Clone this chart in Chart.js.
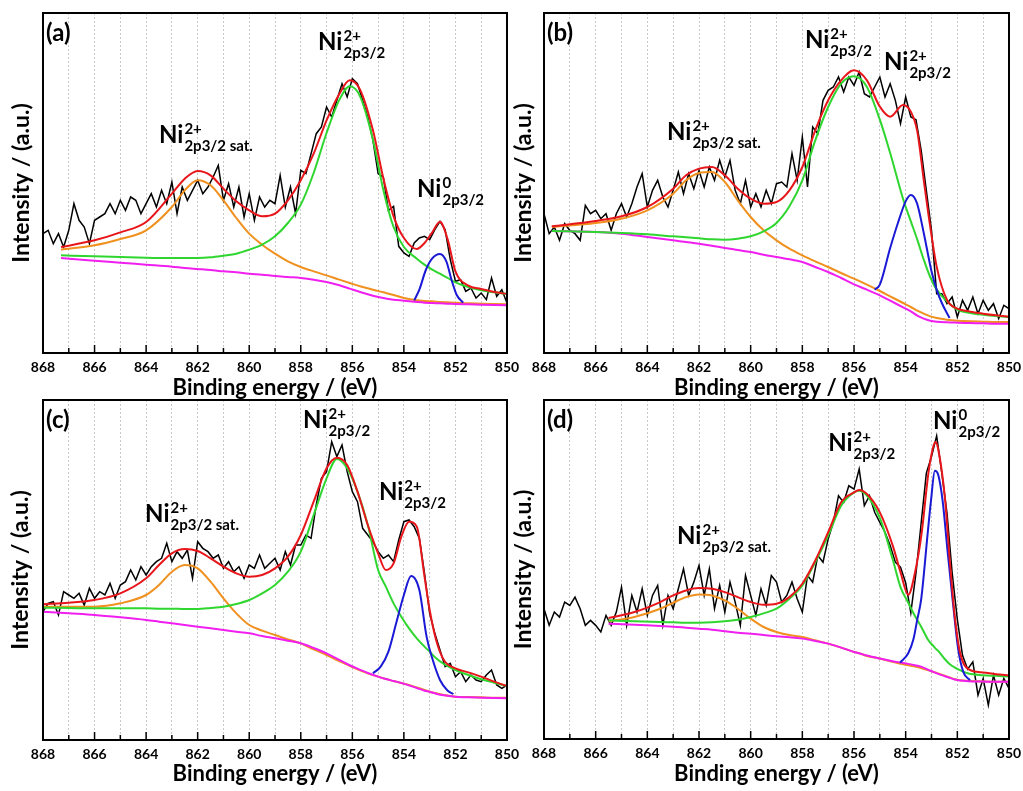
<!DOCTYPE html>
<html>
<head>
<meta charset="utf-8">
<script src="https://cdn.jsdelivr.net/npm/chart.js@4.4.1/dist/chart.umd.min.js"></script>
<style>
body { margin: 0; background: #fff; width: 1023px; height: 791px; overflow: hidden; position: relative; }
.row { position: absolute; left: 0; width: 1023px; overflow: hidden; }
.row canvas { position: absolute; }
</style>
</head>
<body>
<div class="row" style="top:0;height:399px">
  <canvas id="ca" width="530" height="420" style="left:0;top:0"></canvas>
  <canvas id="cb" width="523" height="420" style="left:500px;top:0"></canvas>
</div>
<div class="row" style="top:396px;height:395px">
  <canvas id="cc" width="530" height="395" style="left:0;top:0"></canvas>
  <canvas id="cd" width="523" height="395" style="left:500px;top:0"></canvas>
</div>
<script>
// binding energy of the measured points (eV), shared by all four spectra
const rawEnergy = [868.0, 867.8, 867.6, 867.4, 867.2, 867.0, 866.8, 866.6, 866.4, 866.2,
  866.0, 865.8, 865.6, 865.4, 865.2, 865.0, 864.8, 864.6, 864.4, 864.2,
  864.0, 863.8, 863.6, 863.4, 863.2, 863.0, 862.8, 862.6, 862.4, 862.2,
  862.0, 861.8, 861.6, 861.4, 861.2, 861.0, 860.8, 860.6, 860.4, 860.2,
  860.0, 859.8, 859.6, 859.4, 859.2, 859.0, 858.8, 858.6, 858.4, 858.2,
  858.0, 857.8, 857.6, 857.4, 857.2, 857.0, 856.8, 856.6, 856.4, 856.2,
  856.0, 855.8, 855.6, 855.4, 855.2, 855.0, 854.8, 854.6, 854.4, 854.2,
  854.0, 853.8, 853.6, 853.4, 853.2, 853.0, 852.8, 852.6, 852.4, 852.2,
  852.0, 851.8, 851.6, 851.4, 851.2, 851.0, 850.8, 850.6, 850.4, 850.2,
  850.0];

// ---- (a) ----
const aRaw = [358, 368, 328, 358, 318, 368, 448, 398, 378, 328,
  398, 408, 418, 448, 418, 458, 428, 468, 458, 418,
  448, 478, 438, 488, 448, 513, 418, 498, 458, 488,
  518, 478, 498, 528, 563, 458, 508, 438, 498, 408,
  478, 398, 468, 438, 458, 448, 533, 438, 498, 418,
  548, 538, 598, 658, 678, 738, 708, 758, 808, 768,
  823, 808, 758, 708, 638, 538, 528, 428, 440, 320,
  300, 290, 330, 345, 350, 340, 370, 395, 370, 280,
  215, 220, 185, 195, 165, 180, 160, 225, 170, 190,
  150];
const aFitE = [867.3, 866, 865, 864, 863, 862.5, 862, 861.5, 861, 860.5, 860, 859.5, 859, 858.5, 858, 857.5, 857,
  856.5, 856.1, 855.7, 855.2, 854.8, 854.4, 854, 853.5, 853.2, 852.9, 852.6, 852.3, 852, 851.5, 851, 850.5, 850];
const aEnvelope = [318, 338, 362, 393, 478, 523, 546, 533, 493, 455, 428, 410, 418, 458, 518, 598, 698,
  778, 818, 790, 668, 525, 410, 345, 312, 330, 362, 394, 340, 245, 202, 192, 183, 177];
const aMain = [293, 290, 288, 286, 285, 285, 285, 287, 292, 298, 310, 325, 350, 390, 445, 540, 660,
  760, 800, 770, 640, 490, 378, 318, 283, 265, 250, 238, 225, 212, 198, 188, 182, 177];
const aSat = [310, 323, 342, 368, 438, 488, 518, 503, 458, 405, 358, 325, 298, 275, 258, 245, 233,
  220, 210, 200, 190, 182, 174, 165, 158, 156, 155, 153, 152, 151, 149, 148, 147, 146];
const aBg = [285, 277, 271, 265, 259, 255, 252, 249, 245, 242, 238, 235, 231, 228, 225, 220, 213,
  203, 193, 183, 172, 165, 160, 157, 153, 151, 150, 149, 148, 147, 146, 145, 144, 143];
const aPeak2E = [853.6, 853.4, 853.15, 852.9, 852.6, 852.35, 852.15, 851.95, 851.7];
const aPeak2 = [158, 190, 249, 284, 297, 274, 219, 174, 151];

// ---- (b) ----
const bRaw = [418, 358, 378, 338, 388, 368, 358, 338, 443, 418,
  428, 403, 418, 368, 418, 448, 408, 448, 498, 538,
  438, 488, 518, 468, 438, 488, 543, 478, 538, 493,
  548, 498, 558, 518, 578, 528, 578, 488, 448, 518,
  438, 478, 438, 488, 448, 508, 513, 498, 598, 518,
  648, 498, 678, 658, 758, 788, 798, 828, 783, 828,
  803, 843, 778, 768, 798, 828, 768, 808, 758, 688,
  768, 708, 700, 608, 488, 368, 178, 178, 148, 168,
  108, 158, 128, 168, 118, 158, 128, 148, 103, 143,
  133];
const bFitE = [867.7, 866, 865, 864, 863, 862.5, 862, 861.5, 861, 860.5, 860, 859.5, 859, 858.5, 858, 857.5, 857,
  856.5, 856, 855.5, 855, 854.6, 854.1, 853.8, 853.55, 853.3, 853.05, 852.8, 852.4, 852, 851.5, 851, 850.5, 850];
const bEnvelope = [380, 396, 410, 438, 493, 533, 553, 558, 533, 493, 463, 448, 453, 488, 558, 668, 758,
  818, 848, 818, 739, 709, 744, 724, 665, 519, 379, 259, 159, 133, 124, 118, 113, 109];
const bMain = [366, 363, 360, 356, 350, 347, 344, 341, 340, 343, 350, 365, 390, 440, 518, 638, 738,
  808, 830, 798, 700, 600, 462, 395, 340, 280, 228, 190, 155, 130, 120, 115, 111, 108];
const bSat = [378, 390, 403, 428, 478, 518, 540, 543, 513, 458, 408, 368, 338, 313, 293, 275, 258,
  240, 223, 205, 186, 170, 150, 138, 127, 118, 110, 105, 100, 97, 95, 94, 93, 93];
const bBg = [366, 363, 358, 348, 338, 333, 328, 322, 315, 309, 303, 295, 288, 281, 273, 258, 243,
  225, 206, 190, 173, 157, 137, 125, 112, 103, 97, 94, 92, 91, 90, 89, 88, 88];
const bPeak2E = [855.2, 855.0, 854.6, 854.3, 854.0, 853.8, 853.56, 853.3, 853.0, 852.8, 852.6, 852.3];
const bPeak2 = [190, 205, 315, 390, 455, 474, 449, 360, 245, 190, 150, 105];

// ---- (c) ----
const cRaw = [385, 410, 415, 375, 445, 435, 425, 440, 405, 455,
  425, 445, 435, 470, 425, 465, 475, 510, 480, 520,
  495, 520, 535, 545, 590, 535, 565, 545, 570, 485,
  595, 575, 565, 545, 555, 515, 535, 505, 520, 485,
  525, 515, 555, 515, 530, 545, 510, 565, 525, 585,
  585, 615, 605, 705, 785, 805, 895, 850, 885, 805,
  745, 715, 635, 615, 595, 565, 545, 555, 535, 600,
  655, 660, 640, 605, 500, 380, 320, 270, 220, 230,
  190, 205, 175, 195, 180, 175, 195, 210, 165, 155,
  165];
const cFitE = [868, 867, 866, 865, 864, 863.5, 863, 862.5, 862, 861.5, 861, 860.5, 860, 859.5, 859, 858.5, 858,
  857.5, 857, 856.6, 856.2, 855.8, 855.4, 855, 854.7, 854.4, 854.1, 853.8, 853.5, 853.2, 853, 852.75, 852.45,
  852, 851.5, 851, 850.5, 850];
const cEnvelope = [407, 412, 420, 440, 485, 525, 560, 573, 567, 545, 520, 500, 490, 495, 515, 550, 615,
  715, 815, 847, 825, 745, 645, 560, 510, 530, 610, 655, 640, 490, 390, 300, 240,
  215, 203, 190, 175, 162];
const cMain = [397, 396, 395, 395, 395, 394, 394, 393, 393, 396, 400, 408, 420, 440, 465, 505, 565,
  675, 785, 843, 815, 745, 645, 510, 460, 410, 370, 335, 305, 280, 265, 245, 228,
  210, 195, 182, 172, 162];
const cSat = [400, 400, 400, 410, 435, 465, 505, 525, 515, 475, 425, 380, 345, 328, 315, 302, 290,
  272, 255, 240, 226, 212, 200, 190, 183, 177, 171, 165, 158, 150, 145, 140, 135,
  130, 129, 128, 127, 127];
const cBg = [385, 380, 375, 368, 360, 355, 350, 345, 340, 335, 330, 325, 320, 312, 305, 298, 290,
  276, 260, 244, 228, 214, 201, 190, 183, 177, 171, 164, 156, 148, 145, 139, 134,
  130, 128, 127, 126, 125];
const cPeak2E = [855.2, 854.9, 854.6, 854.3, 854.0, 853.72, 853.4, 853.12, 852.9, 852.6, 852.3, 852.08];
const cPeak2 = [200, 220, 265, 350, 435, 492, 450, 310, 245, 180, 148, 138];

// ---- (d) ----
const dRaw = [392, 342, 382, 367, 412, 402, 427, 392, 342, 357,
  342, 322, 372, 342, 382, 457, 342, 432, 382, 452,
  372, 432, 462, 342, 432, 392, 452, 512, 432, 472,
  522, 432, 512, 392, 462, 382, 472, 412, 342, 492,
  432, 372, 452, 402, 492, 472, 412, 432, 472, 422,
  382, 492, 472, 552, 532, 602, 652, 732, 712, 762,
  752, 812, 702, 732, 682, 652, 622, 582, 532, 517,
  470, 380, 500, 650, 800, 850, 912, 800, 680, 500,
  360, 252, 210, 232, 132, 182, 102, 192, 132, 182,
  152];
const dFitE = [865.5, 864.5, 863.5, 863, 862.5, 862, 861.5, 861, 860.5, 860, 859.5, 859, 858.5, 858, 857.5, 857,
  856.5, 856, 855.8, 855.5, 855, 854.5, 854.2, 853.9, 853.64, 853.38, 853.12, 852.93, 852.84, 852.74, 852.48,
  852.29, 852.1, 851.9, 851.57, 851, 850.5, 850];
const dEnvelope = [364, 382, 412, 432, 447, 454, 452, 442, 427, 412, 404, 407, 427, 467, 537, 622,
  712, 742, 749, 737, 682, 582, 502, 434, 500, 620, 800, 880, 894, 872, 725,
  535, 370, 262, 210, 200, 195, 192];
const dMain = [357, 354, 352, 351, 350, 350, 351, 354, 359, 367, 378, 392, 422, 462, 532, 612,
  702, 742, 747, 732, 665, 540, 457, 410, 370, 335, 297, 280, 272, 265, 240,
  225, 215, 207, 197, 192, 190, 188];
const dSat = [354, 367, 392, 410, 427, 435, 432, 417, 392, 362, 337, 322, 313, 307, 297, 287,
  275, 262, 258, 250, 242, 232, 226, 222, 218, 213, 207, 202, 200, 197, 190,
  185, 180, 177, 175, 173, 172, 172];
const dBg = [347, 344, 340, 338, 335, 332, 329, 324, 320, 317, 313, 309, 306, 302, 295, 287,
  275, 262, 258, 251, 242, 234, 230, 226, 222, 217, 208, 202, 199, 196, 189,
  184, 179, 176, 174, 173, 172, 172];
const dPeak2E = [854.22, 853.9, 853.7, 853.55, 853.4, 853.15, 853.02, 852.87, 852.74, 852.57, 852.38, 852.18, 851.97, 851.77, 851.51];
const dPeak2 = [230, 258, 300, 360, 420, 617, 717, 807, 795, 717, 567, 417, 272, 202, 177];

// axis range and labels
const energyMin = 850, energyMax = 868;
const intensityMax = 1020;
const xTitle = 'Binding energy / (eV)';
const yTitle = 'Intensity / (a.u.)';

const FONT = 'Lato, "Open Sans", sans-serif';

function pts(xs, ys) {
  return xs.map((x, i) => ({ x: x, y: ys[i] }));
}

function fitLine(data, color) {
  return { data: data, borderColor: color, borderWidth: 2, pointRadius: 0, fill: false,
           cubicInterpolationMode: 'monotone' };
}

// draws the frame, inward ticks, panel tag and peak labels
const framePlugin = {
  id: 'frame',
  afterDraw(chart, args, opts) {
    const ctx = chart.ctx, a = chart.chartArea, x = chart.scales.x, y = chart.scales.y;
    ctx.save();
    ctx.strokeStyle = '#000';
    ctx.lineWidth = 1.5;
    x.ticks.forEach(t => {
      const px = x.getPixelForValue(t.value);
      const len = t.value % 2 === 0 ? 8 : 5;
      ctx.beginPath();
      ctx.moveTo(px, a.bottom);
      ctx.lineTo(px, a.bottom - len);
      ctx.stroke();
    });
    ctx.lineWidth = 2;
    ctx.strokeRect(a.left, a.top, a.right - a.left, a.bottom - a.top);

    ctx.fillStyle = '#000';
    ctx.textBaseline = 'alphabetic';
    ctx.textAlign = 'left';
    ctx.font = 'bold 24px ' + FONT;
    ctx.fillText(opts.tag, a.left + 3, a.top + 28);

    opts.notes.forEach(n => {
      const px = x.getPixelForValue(n.e), py = y.getPixelForValue(n.v);
      ctx.font = 'bold 24px ' + FONT;
      ctx.fillText('Ni', px, py);
      const w = ctx.measureText('Ni').width + 1;
      ctx.font = 'bold 15px ' + FONT;
      ctx.fillText(n.sup, px + w, py - 9);
      ctx.fillText(n.sub, px + w, py + 8);
    });
    ctx.restore();
  }
};

function makePanel(p) {
  const canvas = document.getElementById(p.id);
  const cw = canvas.width, ch = canvas.height;
  const [pl, pt, pr, pb] = p.plot;

  return new Chart(canvas, {
    type: 'line',
    data: {
      datasets: [
        fitLine(pts(p.fitE, p.envelope), '#e8161b'),
        fitLine(pts(p.peak2E, p.peak2), '#1a1ad6'),
        fitLine(pts(p.fitE, p.main), '#2fd62f'),
        fitLine(pts(p.fitE, p.bg), '#f01ff0'),
        fitLine(pts(p.fitE, p.sat), '#f0901e'),
        { data: pts(rawEnergy, p.raw), borderColor: '#000', borderWidth: 1.5, pointRadius: 0, tension: 0 }
      ]
    },
    options: {
      responsive: false,
      animation: false,
      events: [],
      layout: { padding: { left: 0, top: pt, right: cw - pr, bottom: 0 } },
      plugins: {
        legend: { display: false },
        tooltip: { enabled: false },
        frame: { tag: p.tag, notes: p.notes }
      },
      scales: {
        x: {
          type: 'linear',
          reverse: true,
          min: energyMin,
          max: energyMax,
          afterFit: s => { s.height = ch - pb; s.paddingLeft = 0; s.paddingRight = 0; },
          ticks: {
            stepSize: 1,
            autoSkip: false,
            maxRotation: 0,
            padding: 6,
            color: '#000',
            font: { family: FONT, size: 14, weight: 'bold' },
            callback: v => (v % 2 === 0 ? String(v) : '')
          },
          grid: { color: '#c8c8c8', lineWidth: 1, drawTicks: false },
          border: { display: false, dash: [2, 2] },
          title: {
            display: true, text: xTitle, color: '#000',
            font: { family: FONT, size: 22, weight: 'bold' },
            padding: { top: 0, bottom: p.xGap - 13.2 }
          }
        },
        y: {
          min: 0,
          max: intensityMax,
          afterFit: s => { s.width = pl; },
          ticks: { display: false },
          grid: { display: false },
          border: { display: false },
          title: {
            display: true, text: yTitle, color: '#000',
            font: { family: FONT, size: 23, weight: 'bold' },
            padding: { top: p.yGap - 13.8, bottom: 0 }
          }
        }
      }
    },
    plugins: [framePlugin]
  });
}

const panels = [
  { id: 'ca', tag: '(a)', plot: [43, 13, 507, 353], xGap: 32, yGap: 21.5,
    raw: aRaw, fitE: aFitE, envelope: aEnvelope, main: aMain, sat: aSat, bg: aBg, peak2E: aPeak2E, peak2: aPeak2,
    notes: [
      { e: 857.33, v: 909, sup: '2+', sub: '2p3/2' },
      { e: 863.5, v: 630, sup: '2+', sub: '2p3/2 sat.' },
      { e: 853.49, v: 468, sup: '0', sub: '2p3/2' }
    ] },
  { id: 'cb', tag: '(b)', plot: [44, 13, 509, 353], xGap: 32, yGap: 24,
    raw: bRaw, fitE: bFitE, envelope: bEnvelope, main: bMain, sat: bSat, bg: bBg, peak2E: bPeak2E, peak2: bPeak2,
    notes: [
      { e: 857.9, v: 915, sup: '2+', sub: '2p3/2' },
      { e: 854.84, v: 849, sup: '2+', sub: '2p3/2' },
      { e: 863.24, v: 639, sup: '2+', sub: '2p3/2 sat.' }
    ] },
  { id: 'cc', tag: '(c)', plot: [43, 4, 507, 344], xGap: 17, yGap: 20.5,
    raw: cRaw, fitE: cFitE, envelope: cEnvelope, main: cMain, sat: cSat, bg: cBg, peak2E: cPeak2E, peak2: cPeak2,
    notes: [
      { e: 857.91, v: 936, sup: '2+', sub: '2p3/2' },
      { e: 854.97, v: 720, sup: '2+', sub: '2p3/2' },
      { e: 864.04, v: 654, sup: '2+', sub: '2p3/2 sat.' }
    ] },
  { id: 'cd', tag: '(d)', plot: [44, 4, 509, 343], xGap: 17, yGap: 24,
    raw: dRaw, fitE: dFitE, envelope: dEnvelope, main: dMain, sat: dSat, bg: dBg, peak2E: dPeak2E, peak2: dPeak2,
    notes: [
      { e: 852.94, v: 933, sup: '0', sub: '2p3/2' },
      { e: 857.0, v: 867, sup: '2+', sub: '2p3/2' },
      { e: 862.85, v: 588, sup: '2+', sub: '2p3/2 sat.' }
    ] }
];

function drawAll() {
  panels.forEach(makePanel);
}

if (document.fonts && document.fonts.load) {
  Promise.all([
    document.fonts.load('bold 22px Lato'),
    document.fonts.load('bold 14px Lato')
  ]).then(drawAll, drawAll);
} else {
  drawAll();
}
</script>
</body>
</html>
